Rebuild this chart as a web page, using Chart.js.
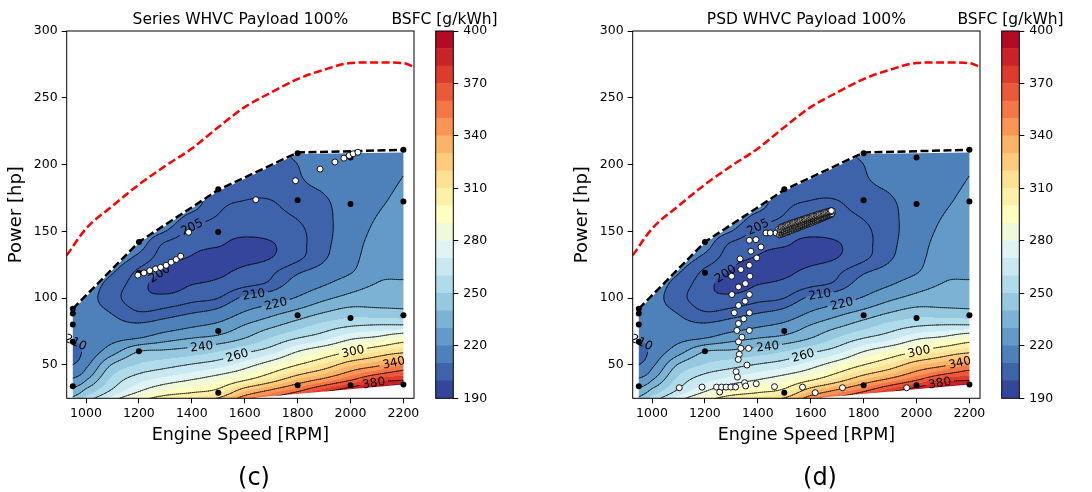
<!DOCTYPE html>
<html>
<head>
<meta charset="utf-8">
<script src="https://cdn.jsdelivr.net/npm/chart.js@4.4.1/dist/chart.umd.min.js"></script>
<style>
  html, body { margin: 0; padding: 0; background: #fff; width: 1092px; height: 492px; overflow: hidden; }
  .panel { position: absolute; top: 0; width: 546px; height: 492px; }
  .panel canvas { position: absolute; top: 0; }
</style>
</head>
<body>
<div class="panel" style="left:0">
  <canvas id="seriesMap" width="430" height="492" style="left:0"></canvas>
  <canvas id="seriesBar" width="160" height="492" style="left:380px"></canvas>
</div>
<div class="panel" style="left:566px">
  <canvas id="psdMap" width="430" height="492" style="left:0"></canvas>
  <canvas id="psdBar" width="160" height="492" style="left:380px"></canvas>
</div>
<script>
// axis ticks
const speedTicks = [1000, 1200, 1400, 1600, 1800, 2000, 2200];
const powerTicks = [50, 100, 150, 200, 250, 300];
const colorTicks = [190, 220, 250, 280, 310, 340, 370, 400];

// filled levels and line levels of the BSFC map
const bsfcLevels = [190, 200, 210, 220, 230, 240, 250, 260, 270, 280, 290, 300, 310, 320, 330, 340, 350, 360, 370, 380, 390, 400];
const lineLevels = [200, 205, 210, 220, 230, 240, 260, 280, 300, 320, 340, 360, 380];

// BSFC: one row per engine speed, one value per power
const gridSpeed = [950, 1000, 1100, 1200, 1300, 1400, 1500, 1600, 1700, 1800, 1900, 2000, 2100, 2200];
const gridPower = [20, 30, 40, 50, 60, 70, 80, 90, 100, 110, 120, 130, 140, 150, 160, 170, 180, 190, 200, 210];
const bsfcGrid = [
  [248, 234, 220, 210, 206, 211, 213, 214, 214, 214, 214, 214, 214, 214, 214, 214, 214, 214, 214, 214],
  [262, 244, 228, 218, 213, 213, 212.5, 212, 212, 212.5, 213, 214, 214, 214, 214, 214, 214, 214, 214, 214],
  [285, 263, 252, 241, 226, 217, 212, 209.5, 207, 208, 210.5, 213, 214, 214, 214, 214, 214, 214, 214, 214],
  [305, 280, 265, 251, 240, 220, 211, 205, 201.5, 202, 204, 208.5, 212, 213, 213, 213, 213, 213, 213, 213],
  [320, 292, 272, 256, 242, 226, 214, 206.5, 201.5, 197.5, 199.5, 202, 204, 210, 213, 213, 213, 213, 213, 213],
  [325, 298, 278, 261, 245, 230, 218, 209, 203.5, 200, 196.5, 199.5, 201.5, 203.5, 208, 212, 212, 212, 212, 212],
  [335, 305, 285, 266, 250, 233, 222, 212, 205, 201.5, 198.5, 197, 200.5, 202, 204.5, 206, 207.5, 208, 208, 208],
  [360, 330, 295, 275, 258, 240, 230, 220, 211.5, 204, 201.5, 198, 198, 201.5, 203, 204.5, 206, 207, 207.5, 208],
  [375, 345, 310, 287, 266, 251, 237, 226, 215, 206.5, 204, 200, 199.5, 202, 203.5, 204.5, 206, 207, 208, 209],
  [395, 360, 327, 300, 280, 260, 245, 232, 221, 214, 209, 204, 203.5, 204, 205.2, 207, 208.5, 209.5, 210, 211],
  [410, 378, 340, 312, 290, 267, 253, 239, 228, 219.5, 213, 209.3, 208.3, 208, 208.3, 209, 210.3, 212, 213, 213],
  [420, 392, 355, 328, 300, 278, 258, 244, 233, 226, 219, 216.5, 215.5, 214.5, 214, 213.5, 213.5, 213.5, 214, 214],
  [430, 405, 370, 337, 310, 283, 260, 243, 235, 230.5, 228, 226, 224, 222, 220.3, 219, 218, 217, 216.5, 216],
  [440, 410, 375, 350, 317, 292, 260, 242, 236, 231.5, 228, 226, 224.5, 223.5, 222.5, 221.5, 220.8, 220.1, 219.5, 219]
];

// outline of the measured map and the two limit curves [rpm, hp]
const mapHull = [[950, 0], [950, 91], [1200, 141], [1500, 180], [1800, 208], [2200, 209], [2200, 35.4], [1645, 25.6], [1500, 0]];
const mapLimit = [[950, 92], [1200, 142], [1500, 181], [1800, 209], [2200, 211]];
const fullLoad = [[927, 132], [1000, 152], [1100, 169], [1200, 185], [1300, 199], [1400, 212], [1500, 228], [1600, 243],
  [1700, 254], [1800, 264], [1900, 271], [2000, 276], [2100, 276.5], [2200, 276], [2240, 273]];

// measurement points of the map
const testPoints = [[950, 92], [950, 88.5], [950, 80.3], [950, 67.3], [950, 34], [1200, 142], [1200, 119], [1200, 60.3],
  [1500, 181.5], [1500, 149.6], [1500, 75.3], [1500, 29.2], [1800, 208.5], [1800, 173.2], [1800, 87.2], [1800, 34.7],
  [2000, 205.3], [2000, 170.5], [2000, 85.2], [2000, 34.7], [2200, 211], [2200, 172.4], [2200, 87.2], [2200, 35.4]];

// engine operating points, series hybrid
const seriesPoints = [[1196, 117.2], [1219, 118.9], [1241, 120.6], [1263, 121.9], [1282, 123.1], [1303, 124.6], [1322, 126.9],
  [1341, 128.9], [1358, 131.4], [1388, 149.3], [1642, 173.7], [1792, 187.9], [1885, 196.6], [1941, 201.9], [1975, 204.8],
  [1995, 206.8], [2010, 208.1], [2028, 209.2]];

// engine operating points, power split
const psdPoints = [
  [1368, 143.3], [1393, 143.8], [1412, 138.3], [1374, 135.1], [1396, 130.1], [1333, 129.4], [1368, 124.6], [1336, 121.4],
  [1301, 116.4], [1370, 116.4], [1353, 110.9], [1327, 108.4], [1302, 102.7], [1368, 102.7], [1352, 97.7], [1327, 94.5],
  [1311, 89], [1368, 89], [1347, 84.5], [1327, 81], [1321, 75.8], [1368, 75.8], [1340, 70.8], [1327, 67.3], [1336, 62.4],
  [1365, 62.4], [1330, 57.9], [1326, 54.1], [1359, 49.9], [1318, 44.9], [1323, 40.9],
  [1103, 32.9], [1189, 33.4], [1244, 33.4], [1256, 29.7], [1263, 33.4], [1280, 33.4], [1298, 33.4], [1316, 33.4],
  [1350, 36.7], [1354, 34.2], [1394, 35.9], [1463, 33.7], [1569, 33.4], [1617, 29.2], [1720, 32.9], [1963, 32.9],
  [1431, 148.8], [1447, 148.8], [1469, 148.8], [1479, 151.8],
  [1482, 147.4], [1487, 147.8], [1491, 148.1], [1496, 148.4], [1500, 148.7], [1505, 149.1], [1509, 149.4], [1514, 149.7],
  [1518, 150], [1523, 150.4], [1527, 150.7], [1532, 151.1], [1536, 151.4], [1541, 151.8], [1545, 152.1], [1550, 152.5],
  [1554, 152.8], [1559, 153.2], [1563, 153.5], [1568, 153.9], [1572, 154.2], [1577, 154.6], [1581, 154.9], [1586, 155.3],
  [1590, 155.6], [1595, 156], [1599, 156.3], [1604, 156.7], [1608, 157], [1613, 157.4], [1617, 157.7], [1622, 158.1],
  [1626, 158.4], [1631, 158.8], [1635, 159.2], [1640, 159.6], [1644, 159.9], [1649, 160.3], [1653, 160.7], [1658, 161.1],
  [1662, 161.4], [1667, 161.8], [1671, 162.2], [1676, 162.6], [1680, 163],
  [1486, 149.5], [1491, 149.9], [1495, 150.2], [1500, 150.5], [1504, 150.8], [1509, 151.2], [1513, 151.5], [1518, 151.8],
  [1522, 152.1], [1527, 152.4], [1531, 152.7], [1536, 153.1], [1540, 153.4], [1545, 153.7], [1549, 154], [1554, 154.4],
  [1558, 154.7], [1563, 155], [1567, 155.3], [1572, 155.7], [1576, 156], [1581, 156.3], [1585, 156.6], [1590, 156.9],
  [1594, 157.2], [1599, 157.6], [1603, 157.9], [1608, 158.2], [1612, 158.5], [1617, 158.9], [1621, 159.2], [1626, 159.5],
  [1630, 159.8], [1635, 160.2], [1639, 160.5], [1644, 160.8], [1648, 161.1], [1653, 161.5], [1657, 161.8], [1662, 162.1],
  [1666, 162.4], [1671, 162.8], [1675, 163.1], [1680, 163.4],
  [1484, 151.2], [1489, 151.5], [1493, 151.8], [1498, 152.2], [1502, 152.5], [1507, 152.8], [1511, 153.1], [1516, 153.5],
  [1520, 153.8], [1525, 154.1], [1529, 154.4], [1534, 154.7], [1538, 155], [1543, 155.4], [1547, 155.7], [1552, 156],
  [1556, 156.3], [1561, 156.7], [1565, 157], [1570, 157.3], [1574, 157.6], [1579, 158], [1583, 158.3], [1588, 158.6],
  [1592, 158.9], [1597, 159.2], [1601, 159.5], [1606, 159.9], [1610, 160.2], [1615, 160.5], [1619, 160.8], [1624, 161.2],
  [1628, 161.5], [1633, 161.8], [1637, 162.1], [1642, 162.5], [1646, 162.8], [1651, 163.1], [1655, 163.4], [1660, 163.7],
  [1664, 164], [1669, 164.3], [1673, 164.6], [1678, 164.9], [1682, 165.2],
  [1489, 153.3], [1494, 153.7], [1498, 154], [1503, 154.3], [1507, 154.6], [1512, 155], [1516, 155.3], [1521, 155.6],
  [1525, 155.9], [1530, 156.2], [1534, 156.5], [1539, 156.8], [1543, 157.1], [1548, 157.4], [1552, 157.7], [1557, 158],
  [1561, 158.3], [1566, 158.6], [1570, 158.9], [1575, 159.2], [1579, 159.5], [1584, 159.8], [1588, 160.1], [1593, 160.4],
  [1597, 160.7], [1602, 161], [1606, 161.3], [1611, 161.6], [1615, 161.8], [1620, 162.1], [1624, 162.4], [1629, 162.7],
  [1633, 162.9], [1638, 163.2], [1642, 163.5], [1647, 163.8], [1651, 164], [1656, 164.3], [1660, 164.5], [1665, 164.8],
  [1669, 165], [1674, 165.3], [1678, 165.5]
];

// inline contour labels (level, rough place)
const contourTags = [
  { level: 200, rpm: 1275, hp: 118 }, { level: 205, rpm: 1400, hp: 155 }, { level: 210, rpm: 1635, hp: 104 },
  { level: 220, rpm: 1718, hp: 96 }, { level: 240, rpm: 1440, hp: 63 }, { level: 260, rpm: 1570, hp: 58 },
  { level: 300, rpm: 2010, hp: 61 }, { level: 340, rpm: 2165, hp: 54 }, { level: 380, rpm: 2085, hp: 36 },
  { level: 210, rpm: 962, hp: 68 }
];

const FONT = '"DejaVu Sans"';
Chart.defaults.font.family = FONT;
Chart.defaults.color = '#000';

// RdYlBu reversed
const RDYLBU_R = ['#313695', '#4575b4', '#74add1', '#abd9e9', '#e0f3f8', '#ffffbf', '#fee090', '#fdae61', '#f46d43', '#d73027', '#a50026'];
function hexRGB(h) { return [1, 3, 5].map(k => parseInt(h.slice(k, k + 2), 16)); }
function cmap(t) {
  const p = t * (RDYLBU_R.length - 1);
  const i = Math.min(RDYLBU_R.length - 2, Math.floor(p)), f = p - i;
  const a = hexRGB(RDYLBU_R[i]), b = hexRGB(RDYLBU_R[i + 1]);
  return a.map((c, k) => Math.round(c + (b[k] - c) * f));
}
const bandRGB = bsfcLevels.slice(0, -1).map((_, i) => cmap((i + 0.5) / (bsfcLevels.length - 1)));
const bandCSS = bandRGB.map(c => `rgb(${c[0]},${c[1]},${c[2]})`);

function fracIndex(arr, v) {
  const n = arr.length;
  if (v <= arr[0]) return 0;
  if (v >= arr[n - 1]) return n - 1;
  let i = 0;
  while (v > arr[i + 1]) i++;
  return i + (v - arr[i]) / (arr[i + 1] - arr[i]);
}
function cr(p0, p1, p2, p3, t) {
  return 0.5 * (2 * p1 + (p2 - p0) * t + (2 * p0 - 5 * p1 + 4 * p2 - p3) * t * t + (3 * p1 - p0 - 3 * p2 + p3) * t * t * t);
}
function bsfcAt(r, p) {
  const nu = gridSpeed.length, nw = gridPower.length;
  const u = fracIndex(gridSpeed, r), w = fracIndex(gridPower, p);
  const i = Math.min(Math.floor(u), nu - 2), j = Math.min(Math.floor(w), nw - 2);
  const tu = u - i, tw = w - j;
  const col = k => bsfcGrid[Math.max(0, Math.min(nu - 1, k))];
  const along = c => {
    const at = m => c[Math.max(0, Math.min(nw - 1, m))];
    return cr(at(j - 1), at(j), at(j + 1), at(j + 2), tw);
  };
  return cr(along(col(i - 1)), along(col(i)), along(col(i + 1)), along(col(i + 2)), tu);
}
function bandOf(v) {
  let k = 0;
  while (k < bandRGB.length - 1 && v >= bsfcLevels[k + 1]) k++;
  return k;
}
function tracePoly(ctx, pts, x, y) {
  pts.forEach(([r, p], i) => {
    const px = x.getPixelForValue(r), py = y.getPixelForValue(p);
    i ? ctx.lineTo(px, py) : ctx.moveTo(px, py);
  });
  ctx.closePath();
}

// marching squares on a fine pixel grid
function contourSegments(a, x, y, step) {
  const w = a.right - a.left, h = a.bottom - a.top;
  const nx = Math.ceil(w / step) + 1, ny = Math.ceil(h / step) + 1;
  const g = new Float32Array(nx * ny);
  for (let j = 0; j < ny; j++) {
    const p = y.getValueForPixel(a.top + j * step);
    for (let i = 0; i < nx; i++) g[j * nx + i] = bsfcAt(x.getValueForPixel(a.left + i * step), p);
  }
  return lineLevels.map(L => {
    const out = [];
    for (let j = 0; j < ny - 1; j++) {
      for (let i = 0; i < nx - 1; i++) {
        const v = [g[j * nx + i], g[j * nx + i + 1], g[(j + 1) * nx + i + 1], g[(j + 1) * nx + i]];
        const c = [[i, j], [i + 1, j], [i + 1, j + 1], [i, j + 1]];
        const pts = [];
        for (let e = 0; e < 4; e++) {
          const va = v[e], vb = v[(e + 1) % 4];
          if ((va >= L) !== (vb >= L)) {
            const t = (L - va) / (vb - va);
            const ca = c[e], cb = c[(e + 1) % 4];
            pts.push(a.left + (ca[0] + (cb[0] - ca[0]) * t) * step, a.top + (ca[1] + (cb[1] - ca[1]) * t) * step);
          }
        }
        if (pts.length >= 4) out.push(pts.slice(0, 4));
        if (pts.length === 8) out.push(pts.slice(4, 8));
      }
    }
    return out;
  });
}

const mapPlugin = {
  id: 'bsfcMap',
  beforeDatasetsDraw(chart) {
    const { ctx, chartArea: a, scales: { x, y } } = chart;
    const w = Math.round(a.right - a.left), h = Math.round(a.bottom - a.top);
    const off = document.createElement('canvas');
    off.width = w; off.height = h;
    const octx = off.getContext('2d');
    const img = octx.createImageData(w, h);
    const rpm = [];
    for (let px = 0; px < w; px++) rpm.push(x.getValueForPixel(a.left + px + 0.5));
    for (let py = 0; py < h; py++) {
      const hp = y.getValueForPixel(a.top + py + 0.5);
      for (let px = 0; px < w; px++) {
        const c = bandRGB[bandOf(bsfcAt(rpm[px], hp))];
        const o = (py * w + px) * 4;
        img.data[o] = c[0]; img.data[o + 1] = c[1]; img.data[o + 2] = c[2]; img.data[o + 3] = 255;
      }
    }
    octx.putImageData(img, 0, 0);

    ctx.save();
    ctx.beginPath();
    ctx.rect(a.left, a.top, a.right - a.left, a.bottom - a.top);
    ctx.clip();
    ctx.beginPath();
    tracePoly(ctx, mapHull, x, y);
    ctx.clip();
    ctx.drawImage(off, a.left, a.top);

    // contour lines and where their labels sit
    const segs = contourSegments(a, x, y, 2);
    const val = (px, py) => bsfcAt(x.getValueForPixel(px), y.getValueForPixel(py));
    ctx.font = `12px ${FONT}`;
    const tags = contourTags.map(tag => {
      const list = segs[lineLevels.indexOf(tag.level)];
      const tx = x.getPixelForValue(tag.rpm), ty = y.getPixelForValue(tag.hp);
      let bx = tx, by = ty, bd = Infinity;
      for (const s of list) {
        const mx = (s[0] + s[2]) / 2, my = (s[1] + s[3]) / 2;
        const d = (mx - tx) ** 2 + (my - ty) ** 2;
        if (d < bd) { bd = d; bx = mx; by = my; }
      }
      const gx = val(bx + 3, by) - val(bx - 3, by), gy = val(bx, by + 3) - val(bx, by - 3);
      let ang = Math.atan2(gx, -gy);
      if (ang > Math.PI / 2) ang -= Math.PI;
      if (ang < -Math.PI / 2) ang += Math.PI;
      const text = String(tag.level);
      return { text, x: bx, y: by, ang, hw: ctx.measureText(text).width / 2 + 3, hh: 6.5 };
    });

    ctx.beginPath();
    ctx.rect(a.left - 5, a.top - 5, a.right - a.left + 10, a.bottom - a.top + 10);
    for (const t of tags) {
      const cs = Math.cos(t.ang), sn = Math.sin(t.ang);
      [[-t.hw, -t.hh], [t.hw, -t.hh], [t.hw, t.hh], [-t.hw, t.hh]].forEach(([dx, dy], i) => {
        const px = t.x + dx * cs - dy * sn, py = t.y + dx * sn + dy * cs;
        i ? ctx.lineTo(px, py) : ctx.moveTo(px, py);
      });
      ctx.closePath();
    }
    ctx.clip('evenodd');
    ctx.strokeStyle = 'rgba(0,0,0,0.85)';
    ctx.lineWidth = 0.75;
    ctx.lineCap = 'round';
    segs.forEach(list => {
      ctx.beginPath();
      for (const s of list) { ctx.moveTo(s[0], s[1]); ctx.lineTo(s[2], s[3]); }
      ctx.stroke();
    });
    ctx.restore();

    ctx.save();
    ctx.beginPath();
    ctx.rect(a.left, a.top, a.right - a.left, a.bottom - a.top);
    ctx.clip();
    ctx.fillStyle = '#000';
    ctx.font = `12px ${FONT}`;
    ctx.textAlign = 'center';
    ctx.textBaseline = 'middle';
    for (const t of tags) {
      ctx.save();
      ctx.translate(t.x, t.y);
      ctx.rotate(t.ang);
      ctx.fillText(t.text, 0, 1);
      ctx.restore();
    }
    ctx.restore();
  }
};

const panelText = {
  id: 'panelText',
  afterDraw(chart, args, opts) {
    const { ctx, chartArea: a } = chart;
    ctx.save();
    ctx.strokeStyle = '#000';
    ctx.lineWidth = 1;
    ctx.strokeRect(a.left, a.top, a.right - a.left, a.bottom - a.top);
    ctx.fillStyle = '#000';
    ctx.textAlign = 'center';
    ctx.textBaseline = 'alphabetic';
    ctx.font = `15.5px ${FONT}`;
    ctx.fillText(opts.title, (a.left + a.right) / 2, 23.5);
    ctx.font = `24px ${FONT}`;
    ctx.fillText(opts.tag, 254, 485);
    ctx.restore();
  }
};

const barFrame = {
  id: 'barFrame',
  afterDraw(chart, args, opts) {
    const { ctx, chartArea: a } = chart;
    ctx.save();
    ctx.strokeStyle = '#000';
    ctx.lineWidth = 1;
    ctx.strokeRect(a.left, a.top, a.right - a.left, a.bottom - a.top);
    ctx.fillStyle = '#000';
    ctx.textAlign = 'center';
    ctx.font = `15.5px ${FONT}`;
    ctx.fillText(opts.title, (a.left + a.right) / 2, 23.5);
    ctx.restore();
  }
};

const xy = pts => pts.map(([x, y]) => ({ x, y }));
const tickFont = { family: FONT, size: 12.5 };

function makePanel(prefix, title, tag, opPoints) {
  new Chart(document.getElementById(prefix + 'Map'), {
    type: 'scatter',
    data: {
      datasets: [
        { label: 'operating points', data: xy(opPoints), backgroundColor: '#fff', borderColor: '#000',
          borderWidth: 0.9, pointRadius: 3, order: 0 },
        { label: 'map points', data: xy(testPoints), backgroundColor: '#000', borderWidth: 0, pointRadius: 3, order: 1 },
        { type: 'line', label: 'map limit', data: xy(mapLimit), borderColor: '#000', borderWidth: 2.5,
          borderDash: [8, 3.5], pointRadius: 0, showLine: true, fill: false, clip: 0, order: 2 },
        { type: 'line', label: 'full load', data: xy(fullLoad), borderColor: '#ff0000', borderWidth: 2.5,
          borderDash: [8, 3.5], pointRadius: 0, showLine: true, fill: false, cubicInterpolationMode: 'monotone', clip: 0, order: 3 }
      ]
    },
    options: {
      responsive: false,
      animation: false,
      events: [],
      layout: { padding: { left: 0, top: 31, right: 16, bottom: 41.9 } },
      plugins: { legend: { display: false }, tooltip: { enabled: false }, panelText: { title, tag } },
      scales: {
        x: {
          type: 'linear', min: 927, max: 2240,
          afterBuildTicks: s => { s.ticks = speedTicks.map(v => ({ value: v })); },
          afterFit: s => { s.height = 51.8; },
          grid: { drawOnChartArea: false, tickLength: 5, color: '#000' },
          border: { display: false },
          ticks: { font: tickFont, padding: 3, maxRotation: 0, autoSkip: false, callback: v => String(v) },
          title: { display: true, text: 'Engine Speed [RPM]', font: { family: FONT, size: 17.5 }, padding: { top: 4, bottom: 4 } }
        },
        y: {
          type: 'linear', min: 25, max: 300,
          afterBuildTicks: s => { s.ticks = powerTicks.map(v => ({ value: v })); },
          afterFit: s => { s.width = 66.7; },
          grid: { drawOnChartArea: false, tickLength: 5, color: '#000' },
          border: { display: false },
          ticks: { font: tickFont, padding: 4, autoSkip: false, callback: v => String(v) },
          title: { display: true, text: 'Power [hp]', font: { family: FONT, size: 18 }, padding: { top: 6, bottom: 4 } }
        }
      }
    },
    plugins: [mapPlugin, panelText]
  });

  new Chart(document.getElementById(prefix + 'Bar'), {
    type: 'bar',
    data: {
      labels: [''],
      datasets: bandCSS.map((c, i) => ({
        label: `${bsfcLevels[i]}-${bsfcLevels[i + 1]}`,
        data: [[bsfcLevels[i], bsfcLevels[i + 1]]],
        backgroundColor: c, borderWidth: 0, grouped: false, barPercentage: 1, categoryPercentage: 1
      }))
    },
    options: {
      responsive: false,
      animation: false,
      events: [],
      layout: { padding: { left: 55.7, top: 31, right: 0, bottom: 93.7 } },
      plugins: { legend: { display: false }, tooltip: { enabled: false }, barFrame: { title: 'BSFC [g/kWh]' } },
      scales: {
        x: { display: false },
        y: {
          position: 'right', min: bsfcLevels[0], max: bsfcLevels[bsfcLevels.length - 1],
          afterBuildTicks: s => { s.ticks = colorTicks.map(v => ({ value: v })); },
          afterFit: s => { s.width = 86.7; },
          grid: { drawOnChartArea: false, tickLength: 5, color: '#000' },
          border: { display: false },
          ticks: { font: tickFont, padding: 5, autoSkip: false, callback: v => String(v) }
        }
      }
    },
    plugins: [barFrame]
  });
}

makePanel('series', 'Series WHVC Payload 100%', '(c)', seriesPoints);
makePanel('psd', 'PSD WHVC Payload 100%', '(d)', psdPoints);
</script>
</body>
</html>
